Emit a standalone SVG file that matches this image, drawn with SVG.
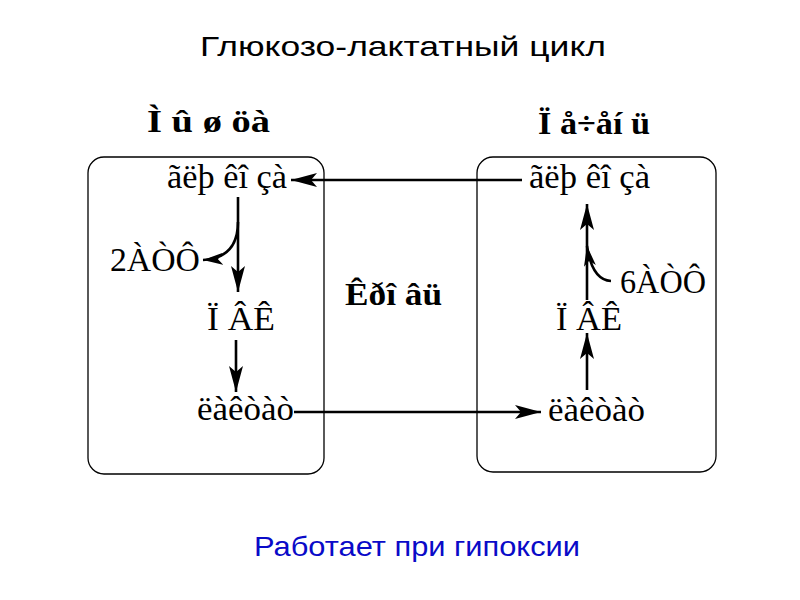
<svg xmlns="http://www.w3.org/2000/svg" width="800" height="600" viewBox="0 0 800 600">
<defs>
<style>
.title{font-family:"Liberation Sans",Arial,sans-serif;font-size:28px;fill:#000}
.sub{font-family:"Liberation Sans",Arial,sans-serif;font-size:28px;fill:#0a0ac8}
.node{font-family:"Liberation Serif","Times New Roman",serif;font-size:34px;fill:#000}
.bold{font-family:"Liberation Serif","Times New Roman",serif;font-size:32px;font-weight:bold;fill:#000}
.box{fill:none;stroke:#000;stroke-width:1.3}
.ln{fill:none;stroke:#000;stroke-width:2.6}
</style>
<marker id="ah" viewBox="0 0 26 14" refX="26" refY="7" markerWidth="26" markerHeight="14" markerUnits="userSpaceOnUse" orient="auto">
<path d="M0,0 L26,7 L0,14 L6,7 Z" fill="#000"/>
</marker>
<marker id="ahs" viewBox="0 0 20 12" refX="20" refY="6" markerWidth="20" markerHeight="12" markerUnits="userSpaceOnUse" orient="auto">
<path d="M0,0 L20,6 L0,12 L5,6 Z" fill="#000"/>
</marker>
</defs>
<rect width="800" height="600" fill="#fff"/>
<text class="title" x="403" y="56" text-anchor="middle" textLength="406" lengthAdjust="spacingAndGlyphs">Глюкозо-лактатный цикл</text>
<g id="muscle">
<rect class="box" x="88" y="157" width="236" height="317" rx="16"/>
<text class="bold" x="147" y="132" textLength="123" lengthAdjust="spacingAndGlyphs">Ì û ø öà</text>
</g>
<g id="liver">
<rect class="box" x="477" y="157" width="239" height="315" rx="16"/>
<text class="bold" x="538" y="134" textLength="112" lengthAdjust="spacingAndGlyphs">Ï å÷åí ü</text>
</g>
<g id="blood"><text class="bold" x="345" y="305" textLength="97" lengthAdjust="spacingAndGlyphs">Êðî âü</text></g>
<g id="glucose-m"><text class="node" x="167" y="188" textLength="120" lengthAdjust="spacingAndGlyphs">ãëþ êî çà</text></g>
<g id="atp2"><text class="node" x="110" y="271" textLength="90" lengthAdjust="spacingAndGlyphs">2ÀÒÔ</text></g>
<g id="pvk-m"><text class="node" x="207" y="330" textLength="68" lengthAdjust="spacingAndGlyphs">Ï ÂÊ</text></g>
<g id="lactate-m"><text class="node" x="197" y="420" textLength="97" lengthAdjust="spacingAndGlyphs">ëàêòàò</text></g>
<g id="glucose-l"><text class="node" x="529" y="188" textLength="121" lengthAdjust="spacingAndGlyphs">ãëþ êî çà</text></g>
<g id="atp6"><text class="node" x="620" y="293" textLength="86" lengthAdjust="spacingAndGlyphs">6ÀÒÔ</text></g>
<g id="pvk-l"><text class="node" x="556" y="330" textLength="66" lengthAdjust="spacingAndGlyphs">Ï ÂÊ</text></g>
<g id="lactate-l"><text class="node" x="548" y="421" textLength="97" lengthAdjust="spacingAndGlyphs">ëàêòàò</text></g>
<g id="connectors">
<line class="ln" x1="522" y1="180" x2="291" y2="180" marker-end="url(#ah)"/>
<line class="ln" x1="238" y1="197" x2="238" y2="292" marker-end="url(#ah)"/>
<path class="ln" d="M238,222 Q238,258 203,260" marker-end="url(#ahs)"/>
<line class="ln" x1="236" y1="340" x2="236" y2="392" marker-end="url(#ah)"/>
<line class="ln" x1="294" y1="412" x2="541" y2="412" marker-end="url(#ah)"/>
<line class="ln" x1="587" y1="390" x2="587" y2="333" marker-end="url(#ah)"/>
<line class="ln" x1="587" y1="300" x2="587" y2="204" marker-end="url(#ah)"/>
<path class="ln" d="M611,281 Q592,280 587,246" marker-end="url(#ahs)"/>
</g>
<text class="sub" x="417" y="556" text-anchor="middle" textLength="326" lengthAdjust="spacingAndGlyphs">Работает при гипоксии</text>
</svg>
